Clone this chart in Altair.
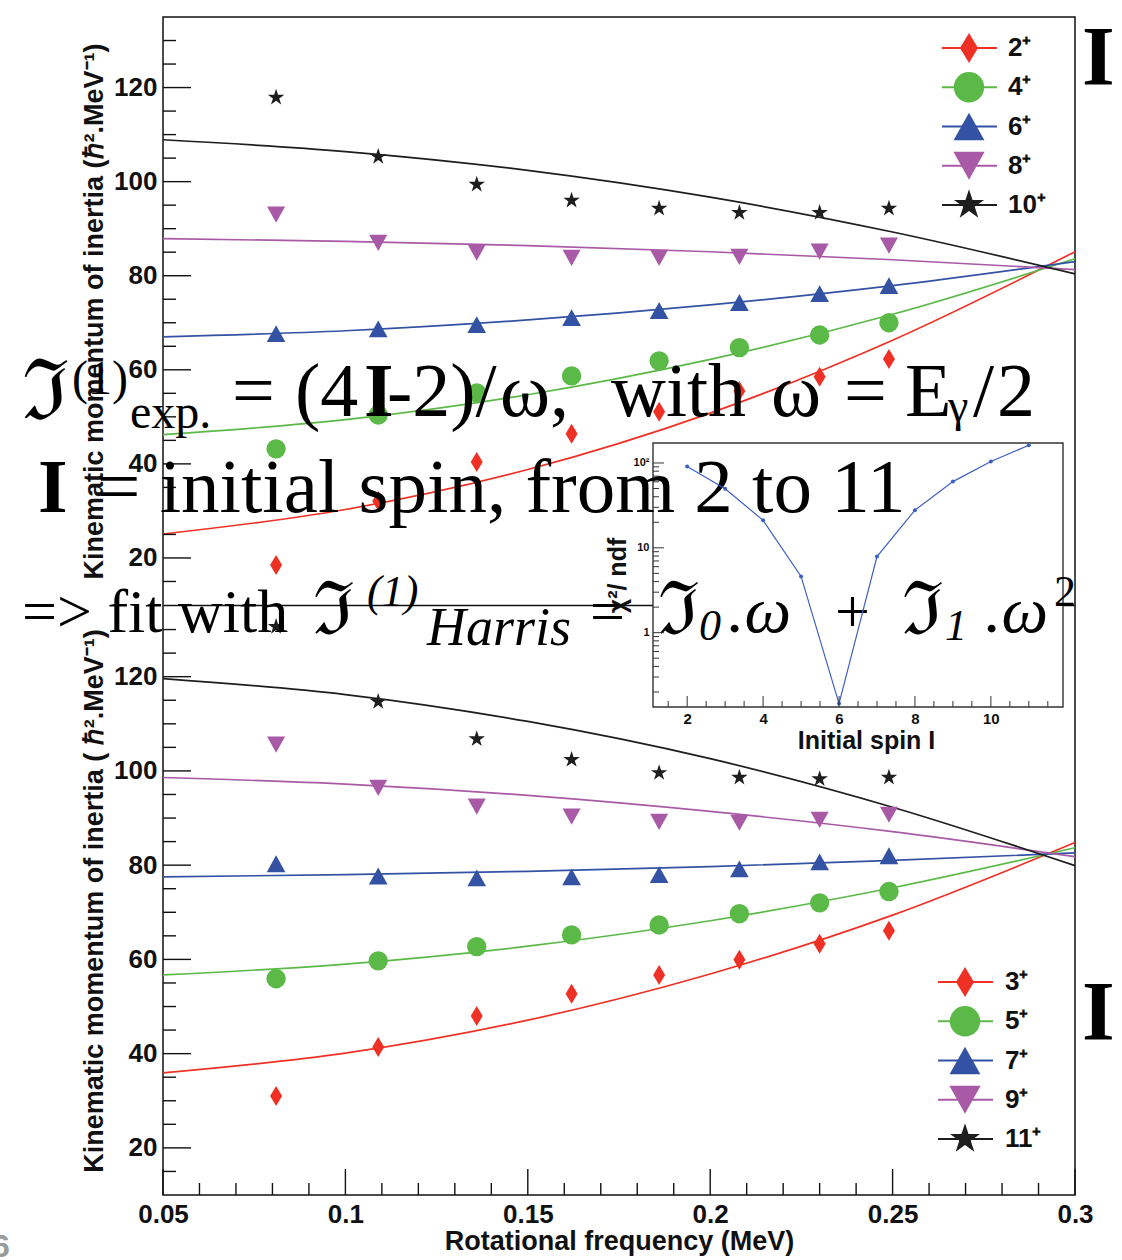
import altair as alt
import pandas as pd

# ---------------- data ----------------
# rotational frequency (MeV) of each measured transition
omega = [0.081, 0.109, 0.136, 0.162, 0.186, 0.208, 0.230, 0.249]

# kinematic moment of inertia, even initial spins (upper panel)
J_2 = [18.5, 32.1, 40.4, 46.4, 51.1, 55.5, 58.5, 62.3]
J_4 = [43.2, 50.4, 55.1, 58.7, 61.9, 64.7, 67.4, 70.0]
J_6 = [67.7, 68.7, 69.6, 71.1, 72.6, 74.3, 76.2, 77.9]
J_8 = [93.0, 87.0, 84.9, 83.8, 83.8, 84.0, 85.1, 86.4]
J_10 = [117.9, 105.3, 99.4, 96.0, 94.3, 93.4, 93.4, 94.3]

# kinematic moment of inertia, odd initial spins (lower panel)
J_3 = [31.0, 41.4, 48.0, 52.7, 56.7, 59.9, 63.3, 66.1]
J_5 = [55.9, 59.7, 62.7, 65.2, 67.3, 69.7, 72.0, 74.4]
J_7 = [80.3, 77.7, 77.3, 77.5, 78.0, 79.2, 80.7, 82.0]
J_9 = [105.6, 96.4, 92.4, 90.3, 89.2, 89.0, 89.6, 90.7]
J_11 = [130.6, 114.7, 106.8, 102.4, 99.6, 98.6, 98.3, 98.6]

# Harris fit curves sampled along the frequency axis
omega_fit = [0.05, 0.10, 0.15, 0.20, 0.25, 0.30]
fit_2 = [25.1, 30.3, 38.8, 50.8, 66.3, 85.1]
fit_4 = [46.2, 49.4, 54.7, 62.2, 71.8, 83.6]
fit_6 = [67.0, 68.3, 70.6, 73.8, 77.9, 83.0]
fit_8 = [87.9, 87.3, 86.4, 85.1, 83.4, 81.3]
fit_10 = [108.9, 106.4, 102.4, 96.7, 89.3, 80.4]
fit_3 = [35.9, 40.1, 47.1, 56.9, 69.4, 84.8]
fit_5 = [56.7, 59.0, 62.8, 68.2, 75.2, 83.7]
fit_7 = [77.5, 78.0, 78.7, 79.7, 81.0, 82.6]
fit_9 = [98.6, 97.2, 94.8, 91.4, 87.1, 81.8]
fit_11 = [119.6, 116.2, 110.5, 102.6, 92.3, 79.9]

# fit quality versus the assumed initial spin
spin_I = [2, 3, 4, 5, 6, 7, 8, 9, 10, 11]
chi2_ndf = [91, 49.8, 21.1, 4.6, 0.146, 7.9, 27.8, 60.3, 104, 162]

even_spins = ["2⁺", "4⁺", "6⁺", "8⁺", "10⁺"]
odd_spins = ["3⁺", "5⁺", "7⁺", "9⁺", "11⁺"]

# ---------------- style ----------------
W, H = 912, 1178          # plot frame (both panels stacked)
OX, OY = 163, 17          # frame origin on the page
TOP_BOTTOM = 588          # pixel row where the upper panel ends
INK = "#111111"
SANS = "Liberation Sans"
SERIF = "Liberation Serif"
SYM = "DejaVu Serif"

DIAMOND = "M0,-1L0.6,0L0,1L-0.6,0Z"
TRI_UP = "M0,-0.9L1,0.9L-1,0.9Z"
TRI_DOWN = "M0,0.9L1,-0.9L-1,-0.9Z"
STAR = ("M0,-1L0.225,-0.309L0.951,-0.309L0.363,0.118L0.588,0.809L0,0.382"
        "L-0.588,0.809L-0.363,0.118L-0.951,-0.309L-0.225,-0.309Z")
COLORS = ["#ee3124", "#5bb947", "#3452a4", "#a85aa6", "#1e1e1e"]
SHAPES = [DIAMOND, "circle", TRI_UP, TRI_DOWN, STAR]
POINT_SIZES = [400, 300, 380, 380, 300]
KEY_SIZES = [900, 1000, 1000, 1000, 760]

X_SCALE = alt.Scale(domain=[0.05, 0.3], range=[0, W], zero=False, nice=False)


def long_table(labels, xs, series, xname, yname):
    rows = []
    for lab, vals in zip(labels, series):
        for x, y in zip(xs, vals):
            rows.append({"spin": lab, xname: x, yname: y})
    return pd.DataFrame(rows)


def panel(labels, pts_series, fit_series, y_range, y_title, x_axis, x_ticks):
    ys = alt.Scale(domain=[10, 135], range=y_range, zero=False, nice=False)
    y_axis = alt.Axis(orient="left", offset=0, values=[20, 40, 60, 80, 100, 120],
                      format="d", ticks=False, domain=False, title=y_title,
                      labelFontSize=26, labelPadding=6, titleFontSize=27,
                      titlePadding=5, labelFlush=False, labelOverlap=False)
    xenc = alt.X("omega:Q", scale=X_SCALE, axis=x_axis)
    yenc = alt.Y("J:Q", scale=ys, axis=y_axis)
    color = alt.Color("spin:N", scale=alt.Scale(domain=labels, range=COLORS), legend=None)

    fits = long_table(labels, omega_fit, fit_series, "omega", "J")
    pts = long_table(labels, omega, pts_series, "omega", "J")

    curves = alt.Chart(fits).mark_line(strokeWidth=1.7, interpolate="monotone").encode(
        x=xenc, y=yenc, color=color)
    markers = alt.Chart(pts).mark_point(filled=True, opacity=1, strokeWidth=0).encode(
        x=xenc, y=yenc, color=color,
        shape=alt.Shape("spin:N", scale=alt.Scale(domain=labels, range=SHAPES), legend=None),
        size=alt.Size("spin:N", scale=alt.Scale(domain=labels, range=POINT_SIZES), legend=None))

    yt = pd.DataFrame({"J": list(range(15, 135, 5))})
    yt["major"] = yt["J"] % 20 == 0
    y_major = alt.Chart(yt[yt["major"]]).mark_rule(color=INK, strokeWidth=1.4).encode(
        y=yenc, x=alt.value(0), x2=alt.value(28))
    y_minor = alt.Chart(yt[~yt["major"]]).mark_rule(color=INK, strokeWidth=1.4).encode(
        y=yenc, x=alt.value(0), x2=alt.value(13))

    layers = [curves, markers, y_major, y_minor]
    if x_ticks:
        xt = pd.DataFrame({"omega": [round(0.05 + 0.01 * k, 2) for k in range(26)]})
        xt["major"] = [round(v * 100) % 5 == 0 for v in xt["omega"]]
        layers.append(alt.Chart(xt[xt["major"]]).mark_rule(color=INK, strokeWidth=1.4).encode(
            x=xenc, y=alt.value(H), y2=alt.value(H - 26)))
        layers.append(alt.Chart(xt[~xt["major"]]).mark_rule(color=INK, strokeWidth=1.4).encode(
            x=xenc, y=alt.value(H), y2=alt.value(H - 12)))
    return alt.layer(*layers)


top_x_axis = alt.Axis(orient="bottom", offset=-(H - TOP_BOTTOM), labels=False, ticks=False,
                      domain=True, domainColor=INK, domainWidth=1.5, title=None)
bottom_x_axis = alt.Axis(orient="bottom", values=[0.05, 0.1, 0.15, 0.2, 0.25, 0.3],
                         format="~g", ticks=False, domain=False,
                         labelFontSize=26, labelPadding=6, labelFlush=False, labelOverlap=False,
                         title="Rotational frequency (MeV)", titleFontSize=27, titlePadding=1)

top = panel(even_spins, [J_2, J_4, J_6, J_8, J_10], [fit_2, fit_4, fit_6, fit_8, fit_10],
            [TOP_BOTTOM, 0], "Kinematic momentum of inertia (ℏ².MeV⁻¹)", top_x_axis, False)
bottom = panel(odd_spins, [J_3, J_5, J_7, J_9, J_11], [fit_3, fit_5, fit_7, fit_9, fit_11],
               [H, TOP_BOTTOM + 1], "Kinematic momentum of inertia ( ℏ².MeV⁻¹)", bottom_x_axis, True)


def key(labels, rows_range, line_x, marker_x, text_x):
    df = pd.DataFrame({"spin": labels})
    yk = alt.Y("spin:N", scale=alt.Scale(type="point", domain=labels, range=rows_range, padding=0),
               axis=None)
    color = alt.Color("spin:N", scale=alt.Scale(domain=labels, range=COLORS), legend=None)
    lines = alt.Chart(df).mark_rule(strokeWidth=2).encode(
        y=yk, x=alt.value(line_x[0]), x2=alt.value(line_x[1]), color=color)
    syms = alt.Chart(df).mark_point(filled=True, opacity=1, strokeWidth=0).encode(
        y=yk, x=alt.value(marker_x), color=color,
        shape=alt.Shape("spin:N", scale=alt.Scale(domain=labels, range=SHAPES), legend=None),
        size=alt.Size("spin:N", scale=alt.Scale(domain=labels, range=KEY_SIZES), legend=None))
    texts = alt.Chart(df).mark_text(font=SANS, fontWeight="bold", fontSize=26, align="left",
                                    baseline="middle", color=INK).encode(
        y=yk, x=alt.value(text_x), text="spin:N")
    return alt.layer(lines, syms, texts)


top_key = key(even_spins, [48 - OY, 205 - OY], (942 - OX, 997 - OX), 969 - OX, 1008 - OX)
bottom_key = key(odd_spins, [982 - OY, 1139 - OY], (938 - OX, 993 - OX), 965 - OX, 1005 - OX)

# ---------------- inset: chi2/ndf versus initial spin ----------------
IN_X0, IN_X1 = 653 - OX, 1063 - OX
IN_Y0, IN_Y1 = 707 - OY, 443 - OY
XS_IN = alt.Scale(domain=[1.1, 11.9], range=[IN_X0, IN_X1], zero=False, nice=False)
YS_IN = alt.Scale(type="log", domain=[0.133, 172], range=[IN_Y0, IN_Y1], nice=False)

frame_df = pd.DataFrame([{"I": 1.1, "I2": 11.9, "chi2": 0.133, "chi2b": 172}])
inset_bg = alt.Chart(frame_df).mark_rect(fill="white", stroke="#333333", strokeWidth=1.4).encode(
    x=alt.X("I:Q", scale=XS_IN, axis=None), x2="I2:Q",
    y=alt.Y("chi2:Q", scale=YS_IN, axis=None), y2="chi2b:Q")

ax_x_in = alt.Axis(orient="bottom", offset=-(H - IN_Y0), values=[2, 4, 6, 8, 10], format="d",
                   ticks=False, domain=False, labelFontSize=15, labelPadding=4,
                   labelFlush=False, title="Initial spin I", titleFontSize=25,
                   titlePadding=2, titleX=866 - OX, zindex=1)
ax_y_in = alt.Axis(orient="left", offset=-IN_X0, values=[1, 10, 100],
                   labelExpr="datum.value >= 100 ? '10²' : (datum.value >= 10 ? '10' : '1')",
                   ticks=False, domain=False, labelFontSize=11, labelPadding=4,
                   labelFlush=False, title="χ²/ ndf", titleFontSize=25, titlePadding=3,
                   zindex=1)
xin = alt.X("I:Q", scale=XS_IN, axis=ax_x_in)
yin = alt.Y("chi2:Q", scale=YS_IN, axis=ax_y_in)

chi_df = pd.DataFrame({"I": spin_I, "chi2": chi2_ndf})
chi_line = alt.Chart(chi_df).mark_line(color="#3c5fc4", strokeWidth=1.2).encode(x=xin, y=yin)
chi_pts = alt.Chart(chi_df).mark_point(color="#3c5fc4", filled=True, opacity=1, size=16).encode(
    x=xin, y=yin)

xt_in = pd.DataFrame({"I": [k / 2 for k in range(3, 24)]})
xt_in["major"] = xt_in["I"].isin([2, 4, 6, 8, 10])
yt_in = pd.DataFrame({"chi2": [m * 10.0 ** e for e in (-1, 0, 1, 2) for m in range(1, 10)
                               if 0.133 < m * 10.0 ** e < 172]})
yt_in["major"] = yt_in["chi2"].isin([1.0, 10.0, 100.0])
tick_ink = "#333333"
in_ticks = [
    alt.Chart(xt_in[xt_in["major"]]).mark_rule(color=tick_ink).encode(
        x=xin, y=alt.value(IN_Y0), y2=alt.value(IN_Y0 - 11)),
    alt.Chart(xt_in[~xt_in["major"]]).mark_rule(color=tick_ink).encode(
        x=xin, y=alt.value(IN_Y0), y2=alt.value(IN_Y0 - 6)),
    alt.Chart(yt_in[yt_in["major"]]).mark_rule(color=tick_ink).encode(
        y=yin, x=alt.value(IN_X0), x2=alt.value(IN_X0 + 11)),
    alt.Chart(yt_in[~yt_in["major"]]).mark_rule(color=tick_ink).encode(
        y=yin, x=alt.value(IN_X0), x2=alt.value(IN_X0 + 6)),
]
inset_plot = alt.layer(chi_line, chi_pts, *in_ticks)


# ---------------- slide annotations ----------------
def note(text, px, py, size, font=SERIF, weight="normal", style="normal", color="#000000"):
    return alt.Chart(alt.Data(values=[{}])).mark_text(
        text=text, font=font, fontSize=size, fontWeight=weight, fontStyle=style,
        color=color, align="left", baseline="alphabetic"
    ).encode(x=alt.value(px - OX), y=alt.value(py - OY))


notes = alt.layer(
    # J(1)exp. = (4I-2)/w, with w = Eg/2
    note("ℑ", 22, 419, 84, font=SYM),
    note("(1)", 72, 394, 48),
    note("exp.", 130, 428, 48),
    note("=", 232, 416, 76),
    note("(4", 295, 416, 76),
    note("I", 364, 416, 76, weight="bold"),
    note("-2)/", 387, 416, 76),
    note("ω,", 500, 416, 76),
    note("with", 611, 416, 76),
    note("ω", 771, 416, 76),
    note("=", 844, 416, 76),
    note("E", 905, 416, 76),
    note("γ", 948, 421, 46),
    note("/", 973, 416, 76),
    note("2", 997, 416, 76),
    # I = initial spin
    note("I", 38, 512, 76, weight="bold"),
    note("= initial spin, from 2 to 11", 97, 512, 77),
    # Harris fit
    note("=> fit with", 22, 632, 62),
    note("ℑ", 313, 634, 74, font=SYM),
    note("(1)", 367, 606, 44, style="italic"),
    note("Harris", 427, 645, 54, style="italic"),
    note("=", 590, 632, 62),
    note("ℑ", 658, 634, 74, font=SYM),
    note("0", 699, 640, 44, style="italic"),
    note(".ω", 728, 632, 66, style="italic"),
    note("+", 835, 632, 62),
    note("ℑ", 902, 634, 74, font=SYM),
    note("1", 945, 640, 44, style="italic"),
    note(".ω", 985, 632, 66, style="italic"),
    note("2", 1054, 606, 44),
    # panel markers and page number
    note("I", 1082, 85, 84, weight="bold"),
    note("I", 1082, 1040, 84, weight="bold"),
    note("6", -8, 1257, 32, font=SANS, weight="bold", color="#9a9a9a"),
)

chart = alt.layer(
    top, bottom, top_key, bottom_key, inset_bg, notes, inset_plot
).resolve_scale(
    x="independent", y="independent", color="independent", shape="independent",
    size="independent"
).properties(
    width=W, height=H,
    autosize=alt.AutoSizeParams(type="none"),
    padding={"left": OX, "top": OY, "right": 1122 - OX - W, "bottom": 1260 - OY - H},
    background="white",
).configure_view(
    stroke=INK, strokeWidth=1.5
).configure_axis(
    labelFont=SANS, titleFont=SANS, labelFontWeight="bold", titleFontWeight="bold",
    labelColor=INK, titleColor=INK, grid=False
)

chart.save("out.html", embed_options={"renderer": "svg", "actions": False})
